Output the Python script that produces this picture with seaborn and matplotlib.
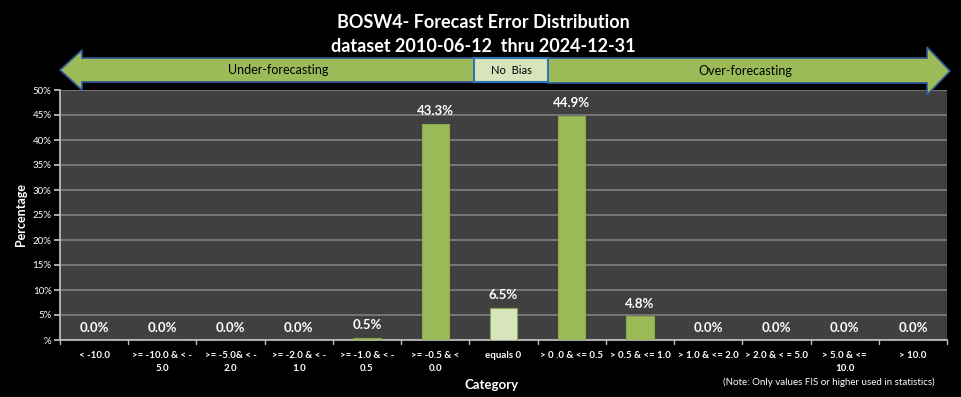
import numpy as np
import pandas as pd
import matplotlib
matplotlib.use('Agg')
import matplotlib.pyplot as plt
from matplotlib.patches import Polygon, Rectangle
import seaborn as sns

# Datos
categorias = ['< -10.0', '>= -10.0 & < -\n5.0', '>= -5.0& < -\n2.0', '>= -2.0 & < -\n1.0',
              '>= -1.0 & < -\n0.5', '>= -0.5 & <\n0.0', 'equals 0', '> 0 .0 & <= 0.5',
              '> 0.5 & <= 1.0', '> 1.0 & <= 2.0', '> 2.0 & < = 5.0', '> 5.0 & <=\n10.0', '> 10.0']
porcentajes = [0.0, 0.0, 0.0, 0.0, 0.5, 43.3, 6.5, 44.9, 4.8, 0.0, 0.0, 0.0, 0.0]
yticks = [0, 5, 10, 15, 20, 25, 30, 35, 40, 45, 50]
ytick_labels = ['%'] + [f'{v}%' for v in yticks[1:]]

verde = '#9BBB59'
verde_claro = '#D7E4BC'
colores = [verde_claro if c == 'equals 0' else verde for c in categorias]

df = pd.DataFrame({'categoria': categorias, 'pct': porcentajes})

sns.set_theme(style='dark')
plt.rcParams['font.family'] = ['Lato', 'DejaVu Sans']

W, H = 961, 397
fig = plt.figure(figsize=(W / 100, H / 100), dpi=100, facecolor='black')
ax = fig.add_axes([60 / W, 1 - 340 / H, 887 / W, 250 / H])
ax.set_facecolor('#404040')

sns.barplot(data=df, x='categoria', y='pct', hue='categoria', palette=colores,
            saturation=1, legend=False, width=0.4, ax=ax, edgecolor='#8AAA4A',
            linewidth=0.8, zorder=3)

ax.set_ylim(0, 50)
ax.set_xlim(-0.5, len(categorias) - 0.5)
ax.set_yticks(yticks)
ax.set_yticklabels(ytick_labels, color='white', fontsize=7)
ax.yaxis.grid(True, color='#7F7F7F', linewidth=1.2, zorder=0)
ax.xaxis.grid(False)
ax.set_xticks(range(len(categorias)))
ax.set_xticklabels(categorias, color='white', fontsize=7, fontweight='bold', linespacing=1.5)
ax.tick_params(axis='x', length=0, pad=8)
ax.tick_params(axis='y', length=4, color='#BFBFBF', left=True, pad=2)
for b in np.arange(-0.5, len(categorias), 1.0):
    ax.plot([b, b], [0, -0.8], color='#BFBFBF', lw=1, clip_on=False)
for side in ['top', 'right']:
    ax.spines[side].set_visible(False)
ax.spines['left'].set_color('#BFBFBF')
ax.spines['bottom'].set_color('#BFBFBF')

# Etiquetas de valor
for i, v in enumerate(porcentajes):
    ax.annotate(f'{v:.1f}%', (i, v), xytext=(0, 4.5), textcoords='offset points',
                ha='center', va='bottom', color='white', fontsize=9.5, fontweight='bold')

ax.set_ylabel('Percentage', color='white', fontsize=9, fontweight='bold', labelpad=4)
ax.set_xlabel('')
fig.text(492 / W, 1 - 385 / H, 'Category', color='white', fontsize=9.5, fontweight='bold',
         ha='center', va='center')
fig.text(935 / W, 1 - 382 / H, '(Note: Only values FIS or higher used in statistics)',
         color='white', fontsize=7, ha='right', va='center')

# Titulo
fig.text(483 / W, 1 - 22 / H, 'BOSW4- Forecast Error Distribution', color='white',
         fontsize=13, fontweight='bold', ha='center', va='center')
fig.text(483 / W, 1 - 47 / H, 'dataset 2010-06-12  thru 2024-12-31', color='white',
         fontsize=13, fontweight='bold', ha='center', va='center')


def px(pts):
    return [(x / W, 1 - y / H) for x, y in pts]


# Flechas de sesgo
izq = [(60, 70), (82, 50), (82, 58), (474, 58), (474, 82), (82, 82), (82, 90)]
der = [(950, 71), (927, 47), (927, 58), (548, 58), (548, 83), (927, 83), (927, 95)]
for pts in (izq, der):
    fig.add_artist(Polygon(px(pts), closed=True, transform=fig.transFigure,
                           facecolor=verde, edgecolor='#2F5597', linewidth=1.2, zorder=5))
fig.add_artist(Rectangle((474 / W, 1 - 82 / H), 74 / W, 24 / H, transform=fig.transFigure,
                         facecolor=verde_claro, edgecolor='#2E75B6', linewidth=1.5, zorder=6))
fig.text(511 / W, 1 - 70 / H, 'No  Bias', color='black', fontsize=8, ha='center',
         va='center', zorder=7)
fig.text(278 / W, 1 - 70 / H, 'Under-forecasting', color='black', fontsize=9, ha='center',
         va='center', zorder=7)
fig.text(745 / W, 1 - 71 / H, 'Over-forecasting', color='black', fontsize=9, ha='center',
         va='center', zorder=7)

fig.savefig('out.png', dpi=100, facecolor='black')
